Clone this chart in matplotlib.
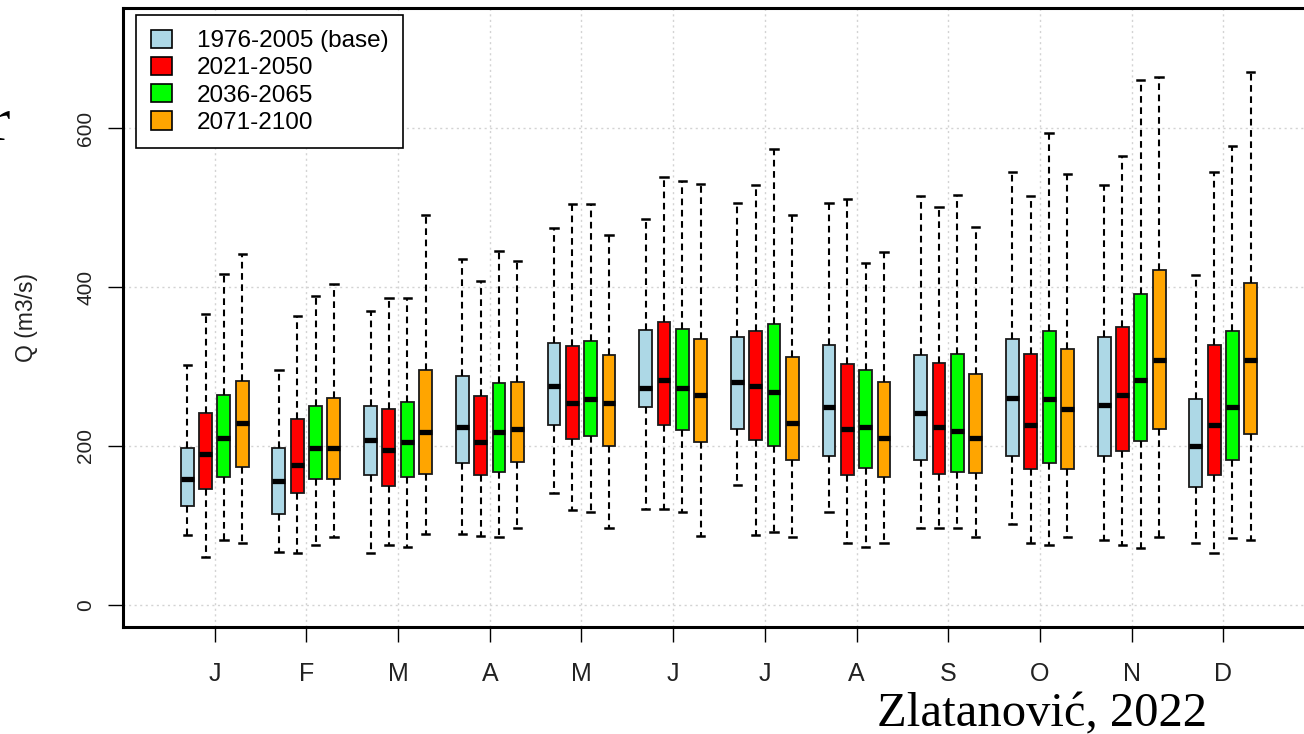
import matplotlib
matplotlib.use('Agg')
import matplotlib.pyplot as plt
from matplotlib.patches import Patch
import numpy as np

plt.rcParams['font.family'] = ['Liberation Sans', 'DejaVu Sans']

months = ['J', 'F', 'M', 'A', 'M', 'J', 'J', 'A', 'S', 'O', 'N', 'D']
periods = ['1976-2005 (base)', '2021-2050', '2036-2065', '2071-2100']
colors = ['lightblue', 'red', '#00FF00', 'orange']

# 1976-2005 (base)
base_lo = [88, 67, 65, 89, 141, 121, 151, 117, 97, 102, 82, 78]
base_q1 = [124, 115, 164, 178, 226, 249, 222, 187, 183, 187, 187, 149]
base_med = [158, 156, 207, 224, 276, 273, 281, 249, 241, 261, 251, 200]
base_q3 = [198, 197, 250, 288, 330, 346, 337, 327, 315, 335, 337, 259]
base_hi = [302, 295, 370, 435, 474, 486, 506, 506, 514, 545, 528, 415]

# 2021-2050
p1_lo = [60, 65, 75, 87, 119, 121, 88, 78, 97, 78, 75, 65]
p1_q1 = [146, 141, 150, 163, 209, 227, 207, 163, 165, 171, 194, 163]
p1_med = [190, 176, 195, 205, 254, 283, 276, 222, 224, 227, 264, 227]
p1_q3 = [242, 234, 247, 263, 326, 356, 345, 303, 305, 316, 350, 327]
p1_hi = [366, 364, 386, 408, 504, 538, 528, 511, 501, 515, 565, 545]

# 2036-2065
p2_lo = [82, 75, 73, 85, 117, 117, 92, 73, 97, 75, 72, 84]
p2_q1 = [161, 159, 161, 167, 213, 220, 200, 172, 167, 178, 206, 183]
p2_med = [210, 198, 205, 217, 259, 273, 268, 224, 219, 259, 283, 249]
p2_q3 = [264, 250, 255, 279, 332, 347, 354, 295, 316, 345, 391, 345]
p2_hi = [416, 389, 386, 445, 504, 533, 574, 430, 516, 594, 661, 577]

# 2071-2100
p3_lo = [78, 85, 89, 97, 97, 87, 86, 78, 85, 85, 85, 82]
p3_q1 = [174, 159, 165, 180, 200, 205, 182, 161, 166, 171, 222, 215]
p3_med = [229, 198, 217, 222, 254, 264, 229, 210, 210, 247, 308, 308]
p3_q3 = [282, 261, 295, 281, 315, 335, 312, 280, 290, 322, 421, 405]
p3_hi = [442, 404, 490, 433, 465, 529, 491, 444, 476, 542, 664, 670]

series = [
    (base_lo, base_q1, base_med, base_q3, base_hi),
    (p1_lo, p1_q1, p1_med, p1_q3, p1_hi),
    (p2_lo, p2_q1, p2_med, p2_q3, p2_hi),
    (p3_lo, p3_q1, p3_med, p3_q3, p3_hi),
]
offsets = [-0.3, -0.1, 0.1, 0.3]

fig = plt.figure(figsize=(13.04, 7.34), dpi=100)
ax = fig.add_axes([123 / 1304, 107 / 734, 1192 / 1304, 619 / 734])

x = np.arange(1, len(months) + 1)
for (lo, q1, med, q3, hi), off, col in zip(series, offsets, colors):
    stats = [dict(whislo=a, q1=b, med=c, q3=d, whishi=e, fliers=[])
             for a, b, c, d, e in zip(lo, q1, med, q3, hi)]
    ax.bxp(stats, positions=x + off, widths=0.14, capwidths=0.08,
           patch_artist=True, showfliers=False, manage_ticks=False, zorder=3,
           boxprops=dict(facecolor=col, edgecolor='#1a1a1a', linewidth=1.3),
           medianprops=dict(color='black', linewidth=3.8, solid_capstyle='butt'),
           whiskerprops=dict(color='black', linewidth=1.5, linestyle=(0, (3.2, 2.2))),
           capprops=dict(color='black', linewidth=1.8))

ax.set_xlim(0, 13)
ax.set_ylim(-27.7, 751)
ax.set_xticks(x)
ax.set_xticklabels(months, fontsize=18, color='#222222')
ax.set_yticks([0, 200, 400, 600])
ax.set_yticklabels(['0', '200', '400', '600'], fontsize=15, rotation=90,
                   va='center', color='#222222')
ax.tick_params(axis='x', length=11, width=1, pad=14)
ax.tick_params(axis='y', length=11, width=1, pad=9)

ax.set_axisbelow(True)
ax.grid(color='#d3d3d3', linestyle=(0, (1.5, 2.5)), linewidth=1)
for s in ax.spines.values():
    s.set_linewidth(2.2)

ax.set_ylabel('Q (m3/s)', fontsize=16.5, color='#222222')
ax.yaxis.set_label_coords(-0.071, 0.5)

handles = [Patch(facecolor=c, edgecolor='black', linewidth=1.2) for c in colors]
leg = ax.legend(handles, periods, loc='upper left',
                bbox_to_anchor=(13 / 1192, 612 / 619), borderaxespad=0,
                fontsize=17.5, fancybox=False, edgecolor='black', framealpha=1,
                handlelength=0.9, handleheight=0.8, handletextpad=1.0,
                labelspacing=0.18, borderpad=0.6)
leg.get_frame().set_linewidth(1.2)

fig.text(877 / 1304, 1 - 726 / 734, 'Zlatanović, 2022', family='Liberation Serif',
         fontsize=35, ha='left', va='baseline')
fig.text(10 / 1304, 1 - 140 / 734, 'r', family='Liberation Serif',
         fontsize=44, ha='right', va='baseline')

fig.savefig('out.png', dpi=100)
